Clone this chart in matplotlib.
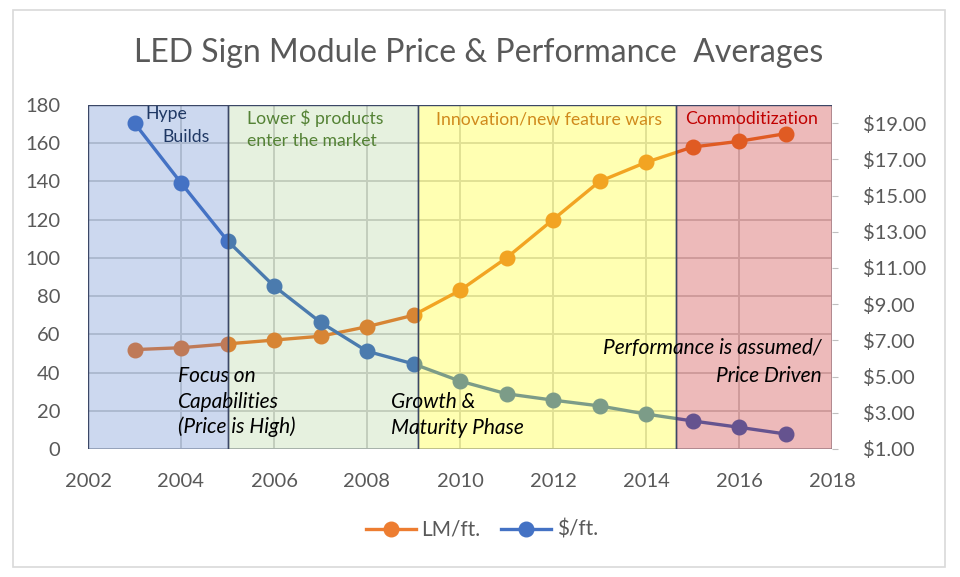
import matplotlib.pyplot as plt
from matplotlib.colors import to_rgba
from matplotlib.patches import Rectangle
from matplotlib.lines import Line2D

plt.rcParams['font.family'] = ['Lato', 'DejaVu Sans']

# Data
years = [2003, 2004, 2005, 2006, 2007, 2008, 2009, 2010, 2011, 2012, 2013, 2014, 2015, 2016, 2017]
lm_per_ft = [52, 53, 55, 57, 59, 64, 70, 83, 100, 120, 140, 150, 158, 161, 165]
price_per_ft = [19.0, 15.7, 12.5, 10.0, 8.0, 6.4, 5.7, 4.75, 4.05, 3.7, 3.38, 2.93, 2.55, 2.2, 1.83]

# phases: (start, end, colour, alpha)
phases = [(2002, 2005.0, '#4472C4', 0.27),
          (2005.0, 2009.1, '#70AD47', 0.17),
          (2009.1, 2014.65, '#FFFF00', 0.30),
          (2014.65, 2018, '#C00000', 0.27)]

grey = '#595959'

fig = plt.figure(figsize=(9.6, 5.77), dpi=100)
ax = fig.add_axes([88/960, 1-449/577, 744/960, 344/577])
ax2 = ax.twinx()

ax.plot(years, lm_per_ft, color='#ED7D31', lw=2.4, marker='o', ms=10.5, zorder=3)
ax2.plot(years, price_per_ft, color='#4472C4', lw=2.4, marker='o', ms=10.5, zorder=3)

for x0, x1, c, a in phases:
    ax2.axvspan(x0, x1, facecolor=to_rgba(c, a), edgecolor='#3b4766', lw=1.0, zorder=4)

ax.set_xlim(2002, 2018)
ax.set_ylim(0, 180)
ax.set_xticks(range(2002, 2019, 2))
ax.set_yticks(range(0, 181, 20))
ax2.set_ylim(1, 20)
ax2.set_yticks(range(1, 20, 2))
ax2.set_yticklabels(['${:.2f}'.format(v) for v in range(1, 20, 2)])

ax.grid(color='#d4d4d4', lw=1.4)
ax.set_axisbelow(True)
for a in (ax, ax2):
    for s in a.spines.values():
        s.set_visible(False)
ax.tick_params(axis='both', length=0, labelsize=14.5, labelcolor=grey)
ax.tick_params(axis='y', pad=20)
ax.tick_params(axis='x', pad=17)
ax2.tick_params(axis='y', length=4, color='#bfbfbf', labelsize=14.5, labelcolor=grey, pad=18)


def left_to_right(v):
    # convert a left-axis value into the right-axis scale
    return 1 + v / 180 * 19


# phase labels (on ax2 so they sit above the shading)
top = dict(fontsize=12.7, va='center', zorder=6)
ax2.text(2003.23, left_to_right(175.3), 'Hype', color='#1f3864', **top)
ax2.text(2003.59, left_to_right(163.3), 'Builds', color='#1f3864', **top)
ax2.text(2005.42, left_to_right(173.2), 'Lower $ products', color='#548235', **top)
ax2.text(2005.42, left_to_right(161.2), 'enter the market', color='#548235', **top)
ax2.text(2009.48, left_to_right(172.2), 'Innovation/new feature wars', color='#D08A1C', **top)
ax2.text(2014.84, left_to_right(172.7), 'Commoditization', color='#C00000', **top)

it = dict(fontsize=15, style='italic', color='black', va='center', zorder=6)
ax2.text(2003.94, left_to_right(38.2), 'Focus on', **it)
ax2.text(2003.94, left_to_right(24.6), 'Capabilities', **it)
ax2.text(2003.94, left_to_right(11.5), '(Price is High)', **it)
ax2.text(2008.52, left_to_right(24.6), 'Growth &', **it)
ax2.text(2008.52, left_to_right(11.0), 'Maturity Phase', **it)
ax2.text(2017.78, left_to_right(52.9), 'Performance is assumed/', ha='right', **it)
ax2.text(2017.78, left_to_right(38.2), 'Price Driven', ha='right', **it)

fig.text(479/960, 1-53/577, 'LED Sign Module Price & Performance  Averages',
         ha='center', va='center', fontsize=23, color=grey)

handles = [Line2D([], [], color='#ED7D31', lw=2.4, marker='o', ms=10.5),
           Line2D([], [], color='#4472C4', lw=2.4, marker='o', ms=10.5)]
fig.legend(handles, ['LM/ft.', '$/ft.'], loc='center', bbox_to_anchor=(482/960, 1-530/577),
           ncol=2, frameon=False, fontsize=15, handlelength=2.4, handletextpad=0.25,
           columnspacing=1.0, labelcolor=grey)

fig.patches.append(Rectangle((13/960, 1-567/577), 932/960, 557/577, transform=fig.transFigure,
                             fill=False, edgecolor='#d9d9d9', lw=1.2))

plt.savefig('out.png', dpi=100)
